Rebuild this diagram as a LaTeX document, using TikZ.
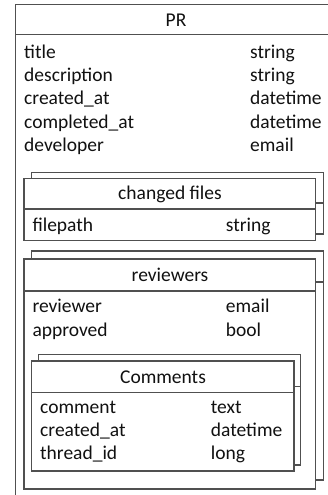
\documentclass[tikz,border=0pt]{standalone}
\usepackage{fontspec}
\setmainfont{Carlito}
\definecolor{linegray}{HTML}{505050}
\definecolor{ink}{HTML}{111111}
\begin{document}
\begin{tikzpicture}[x=1pt,y=-1pt,
  box/.style={draw=linegray, fill=white, line width=1.2pt, rectangle,
    inner sep=0pt, outer sep=0pt, anchor=north west},
  sep/.style={draw=linegray, line width=1.2pt},
  lbl/.style={anchor=base west, inner sep=0pt, text=ink,
    font=\fontsize{19.5pt}{23pt}\selectfont},
  hdr/.style={anchor=base, inner sep=0pt, text=ink,
    font=\fontsize{19.5pt}{23pt}\selectfont}]
\useasboundingbox (0,0) rectangle (328,495);
\clip (0,0) rectangle (328,495);

% ---- PR (outer container) ----
\node[box, minimum width=320.6pt, minimum height=540pt] (pr) at (15.7,4.3) {};
\draw[sep] ([yshift=-30pt]pr.north west) -- ([yshift=-30pt]pr.north east);
\node[hdr] (prh) at (176,27) {PR};
\node[lbl] (pr1a) at (24,58.3) {title};        \node[lbl] (pr1b) at (250,58.3) {string};
\node[lbl] (pr2a) at (24,81.6) {description};  \node[lbl] (pr2b) at (250,81.6) {string};
\node[lbl] (pr3a) at (24,104.8) {created\_at}; \node[lbl] (pr3b) at (250,104.8) {datetime};
\node[lbl] (pr4a) at (24,128.1) {completed\_at};\node[lbl] (pr4b) at (250,128.1) {datetime};
\node[lbl] (pr5a) at (24,151.3) {developer};   \node[lbl] (pr5b) at (250,151.3) {email};

% ---- changed files (stacked) ----
\node[box, minimum width=291.6pt, minimum height=61.7pt] (cfb) at (31.7,172.3) {};
\draw[sep] ([yshift=-30.7pt]cfb.north west) -- ([yshift=-30.7pt]cfb.north east);
\node[box, minimum width=291.6pt, minimum height=62pt] (cf) at (24,178.3) {};
\draw[sep] ([yshift=-30.7pt]cf.north west) -- ([yshift=-30.7pt]cf.north east);
\node[hdr] (cfh) at (170,199.8) {changed files};
\node[lbl] (cf1a) at (32.3,231) {filepath}; \node[lbl] (cf1b) at (225.7,231) {string};

% ---- reviewers (stacked) ----
\node[box, minimum width=291.8pt, minimum height=229pt] (rvb) at (31.7,251) {};
\draw[sep] ([yshift=-31pt]rvb.north west) -- ([yshift=-31pt]rvb.north east);
\node[box, minimum width=291.8pt, minimum height=230pt] (rv) at (24,259) {};
\draw[sep] ([yshift=-32pt]rv.north west) -- ([yshift=-32pt]rv.north east);
\node[hdr] (rvh) at (170,281.5) {reviewers};
\node[lbl] (rv1a) at (32.3,312.7) {reviewer}; \node[lbl] (rv1b) at (225.7,312.7) {email};
\node[lbl] (rv2a) at (32.3,336) {approved};   \node[lbl] (rv2b) at (225.7,336) {bool};

% ---- Comments (stacked, inside reviewers) ----
\node[box, minimum width=262.4pt, minimum height=110.3pt] (cmb) at (38.3,354.7) {};
\draw[sep] ([yshift=-31.5pt]cmb.north west) -- ([yshift=-31.5pt]cmb.north east);
\node[box, minimum width=262.3pt, minimum height=110pt] (cm) at (31.7,361) {};
\draw[sep] ([yshift=-31.7pt]cm.north west) -- ([yshift=-31.7pt]cm.north east);
\node[hdr] (cmh) at (163,383.3) {Comments};
\node[lbl] (cm1a) at (40,413.3) {comment};    \node[lbl] (cm1b) at (210.7,413.3) {text};
\node[lbl] (cm2a) at (40,436.6) {created\_at}; \node[lbl] (cm2b) at (210.7,436.6) {datetime};
\node[lbl] (cm3a) at (40,459.9) {thread\_id};  \node[lbl] (cm3b) at (210.7,459.9) {long};
\end{tikzpicture}
\end{document}
